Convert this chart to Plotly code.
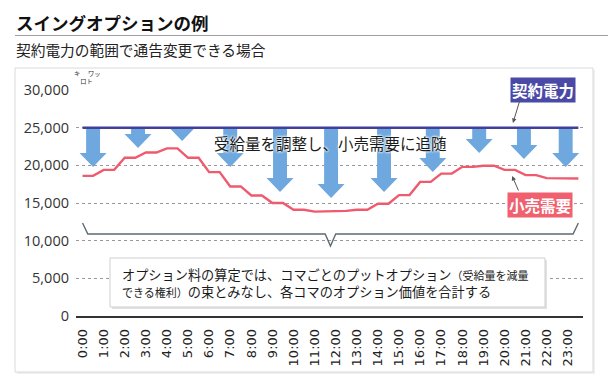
import plotly.graph_objects as go

# ---------------- data ----------------
hour_labels = [f"{h}:00" for h in range(24)]
hour_ticks = list(range(24))

# half-hour time points (hours)
times = [h / 2 for h in range(48)]
# retail demand (kW) read at each half hour
retail_demand = [
    18600, 18600, 19400, 19400, 21000, 21000, 21700, 21700,
    22250, 22250, 21000, 21000, 19100, 19100, 17200, 17200,
    16000, 16000, 15000, 15000, 14100, 14100, 13850, 13850,
    13950, 13950, 14100, 14100, 14900, 14900, 16050, 16050,
    17800, 17800, 18900, 18900, 19800, 19800, 19950, 19950,
    19400, 19400, 18700, 18700, 18300, 18300, 18250, 18250,
]
contract_power = [25000] * 48

# adjustment arrows: position (hours) and tip level (kW)
arrow_hours = [0.5, 2.63, 4.72, 7.0, 9.36, 11.78, 14.29, 16.6, 18.8, 20.92, 22.9]
arrow_tips = [19780, 22300, 23230, 19780, 16460, 15660, 16460, 19120, 21640, 20840, 19780]

y_ticks = [0, 5000, 10000, 15000, 20000, 25000, 30000]

# ---------------- layout helpers ----------------
W, H = 608, 388
L, R, T, B = 76, 25, 90, 72
PW, PH = W - L - R, H - T - B


def px(x):
    return (x - L) / PW


def py(y):
    return (H - B - y) / PH


BLUE = "#40409c"
BLUE_BOX = "#4a4aa6"
RED = "#f05a6e"
RED_BOX = "#f0606f"
ARROW = "#6ea8de"
JP = "Noto Sans CJK JP"

fig = go.Figure()
fig.add_trace(go.Scatter(x=times, y=retail_demand, mode="lines",
                         line=dict(color=RED, width=2.4), hoverinfo="skip"))
fig.add_trace(go.Scatter(x=times, y=contract_power, mode="lines",
                         line=dict(color=BLUE, width=2.5), hoverinfo="skip"))

shapes = []
# block arrows (geometry in data units)
sw, hw, hh = 0.33, 0.64, 1860
for ax_, tip in zip(arrow_hours, arrow_tips):
    top = contract_power[0]
    path = (f"M{ax_-sw},{top} L{ax_-sw},{tip+hh} L{ax_-hw},{tip+hh} L{ax_},{tip} "
            f"L{ax_+hw},{tip+hh} L{ax_+sw},{tip+hh} L{ax_+sw},{top} Z")
    shapes.append(dict(type="path", path=path, xref="x", yref="y",
                       fillcolor=ARROW, line=dict(width=0), layer="between"))

# brace below the chart
bx0, bx1 = times[0], times[-1]
bm = (bx0 + bx1) / 2
yt, yh, yp = 12350, 10890, 9290
d = 0.25
brace = (f"M{bx0},{yt} L{bx0+d},{yh} L{bm-d},{yh} L{bm},{yp} L{bm+d},{yh} "
         f"L{bx1-d},{yh} L{bx1},{yt}")
shapes.append(dict(type="path", path=brace, xref="x", yref="y",
                   line=dict(color="#5c6b73", width=1.4), layer="above"))

# explanation box + shadow
shapes.append(dict(type="rect", xref="paper", yref="paper",
                   x0=px(112), x1=px(547), y0=py(309), y1=py(260),
                   fillcolor="#e2e2e2", line=dict(width=0), layer="above"))
shapes.append(dict(type="rect", xref="paper", yref="paper",
                   x0=px(110), x1=px(545), y0=py(307), y1=py(258),
                   fillcolor="white", line=dict(color="#cfcfcf", width=1), layer="above"))

# panel frame and title rule
shapes.append(dict(type="rect", xref="paper", yref="paper",
                   x0=px(17), x1=px(595), y0=py(374), y1=py(70),
                   fillcolor="#efefef", line=dict(width=0), layer="below"))
shapes.append(dict(type="rect", xref="paper", yref="paper",
                   x0=px(15), x1=px(593), y0=py(372), y1=py(68),
                   fillcolor="white", line=dict(color="#d9d9d9", width=1), layer="below"))
shapes.append(dict(type="line", xref="paper", yref="paper",
                   x0=px(15), x1=px(608), y0=py(35.5), y1=py(35.5),
                   line=dict(color="#a0a0a0", width=1)))

annotations = [
    dict(text="<b>スイングオプションの例</b>", xref="paper", yref="paper",
         x=px(14), y=py(22), xanchor="left", yanchor="middle", showarrow=False,
         font=dict(family=JP, size=17.5, color="#111")),
    dict(text="契約電力の範囲で通告変更できる場合", xref="paper", yref="paper",
         x=px(14), y=py(50), xanchor="left", yanchor="middle", showarrow=False,
         font=dict(family=JP, size=14.7, color="#222")),
    # kilowatt unit (small, zigzag)
    dict(text="キ\u3000 ワッ<br>\u3000ロト", xref="paper", yref="paper",
         x=px(72), y=py(78), xanchor="left", yanchor="middle", align="left",
         showarrow=False, font=dict(family=JP, size=6.3, color="#333")),
    # middle text
    dict(text="受給量を調整し、小売需要に追随", xref="paper", yref="paper",
         x=px(330), y=py(143), xanchor="center", yanchor="middle", showarrow=False,
         font=dict(family=JP, size=15.5, color="#1a1a1a",
                   shadow="0 0 3px white, 0 0 3px white, 0 0 2px white")),
    # legend boxes
    dict(text="<b>契約電力</b>", xref="paper", yref="paper", x=px(543), y=py(90),
         xanchor="center", yanchor="middle", showarrow=False, bgcolor=BLUE_BOX,
         borderpad=1, font=dict(family=JP, size=15.5, color="white")),
    dict(text="<b>小売需要</b>", xref="paper", yref="paper", x=px(540), y=py(205),
         xanchor="center", yanchor="middle", showarrow=False, bgcolor=RED_BOX,
         borderpad=1, font=dict(family=JP, size=15.5, color="white")),
    # connectors
    dict(text="", x=20.4, y=25620, xref="x", yref="y", ax=7, ay=-23,
         showarrow=True, arrowhead=2, arrowsize=0.9, arrowwidth=1, arrowcolor="#555"),
    dict(text="", x=20.36, y=18585, xref="x", yref="y", ax=7, ay=16,
         showarrow=True, arrowhead=2, arrowsize=0.9, arrowwidth=1, arrowcolor="#555"),
    # explanation
    dict(text=("オプション料の算定では、コマごとのプットオプション<span style='font-size:11px'>（受給量を減量</span><br>"
               "<span style='font-size:11px'>できる権利）</span>の束とみなし、各コマのオプション価値を合計する"),
         xref="paper", yref="paper", x=px(120), y=py(283), xanchor="left", yanchor="middle",
         align="left", showarrow=False, font=dict(family=JP, size=13.2, color="#1a1a1a")),
]

fig.update_layout(
    width=W, height=H,
    margin=dict(l=L, r=R, t=T, b=B),
    paper_bgcolor="white", plot_bgcolor="rgba(0,0,0,0)",
    showlegend=False,
    shapes=shapes,
    annotations=annotations,
    xaxis=dict(range=[-0.31, 23.72], tickvals=hour_ticks, ticktext=hour_labels,
               tickangle=-90, showgrid=False, zeroline=False, ticks="",
               showline=True, linecolor="#333", linewidth=1.5,
               ticklabelstandoff=6,
               tickfont=dict(family="DejaVu Sans", size=13, color="#222")),
    yaxis=dict(range=[0, 30000], tickvals=y_ticks, tickformat=",", showgrid=True,
               gridcolor="#999", griddash="dot", gridwidth=1, zeroline=False,
               ticks="", ticklabelstandoff=6,
               tickfont=dict(family="Open Sans", size=14.5, color="#333")),
)

fig.write_html("out.html", config={"displayModeBar": False},
               post_script="document.body.style.margin='0';document.body.style.overflow='hidden';")
